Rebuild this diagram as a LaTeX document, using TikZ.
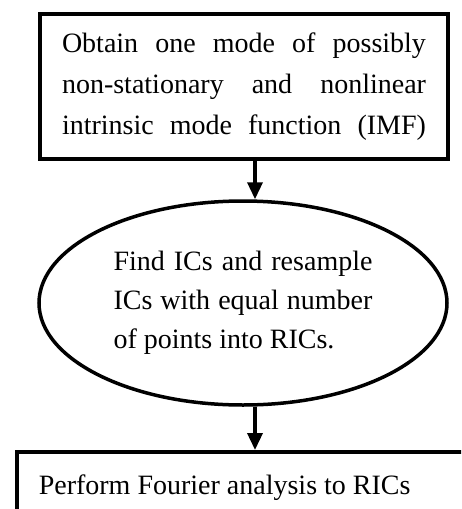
\documentclass[tikz,border=0pt]{standalone}
\usepackage{fontspec}
\setmainfont{Liberation Serif}
\usepackage{tikz}
\usetikzlibrary{
    shapes.geometric,
    arrows.meta,
    positioning,
    calc
}
\tikzset{
    % Base style for all nodes
    flow base/.style={
        font=\fontsize{28pt}{41pt}\selectfont,
        text=black,
        draw=black,
        line width=3.5pt,
        inner sep=0pt,
        execute at begin node={\spaceskip=0pt\xspaceskip=0pt\relax},
    },
    % Process nodes - plain rectangle
    stepbox/.style={
        flow base,
        rectangle,
        align=left,
    },
    % Ellipse node
    ovalbox/.style={
        flow base,
        ellipse,
        align=left,
        font=\fontsize{28pt}{39pt}\selectfont,
    },
    % Arrow style
    arrow/.style={
        -{Triangle[length=17pt, width=15pt]},
        line width=3.5pt,
        draw=black,
    },
}

\begin{document}
\begin{tikzpicture}[x=1pt, y=-1pt]
    \clip (0,0) rectangle (461,509);
    \node (imf) [stepbox, minimum width=408pt, minimum height=145pt, text width=364pt] at (244,86.5)
        {\makebox[364pt][s]{Obtain one mode of possibly}\\
         \makebox[364pt][s]{non-stationary and nonlinear}\\
         \makebox[364pt][s]{intrinsic mode function (IMF)}};
    \node (ric) [ovalbox, minimum width=408pt, minimum height=204pt, text width=259pt] at (243,303)
        {\makebox[259pt][s]{Find ICs and resample}\\
         \makebox[259pt][s]{ICs with equal number}\\
         of points into RICs.};
    \node (fourier) [stepbox, anchor=north west, text width=450pt, inner xsep=22pt,
        inner ysep=23pt, text height=20pt, text depth=60pt] at (15,450)
        {Perform Fourier analysis to RICs};

    \draw [arrow] ([xshift=11pt]imf.south) -- ([xshift=11pt]imf.south |- ric.north);
    \draw [arrow] ([xshift=12pt]ric.south) -- ([xshift=12pt]ric.south |- fourier.north);
\end{tikzpicture}
\end{document}
